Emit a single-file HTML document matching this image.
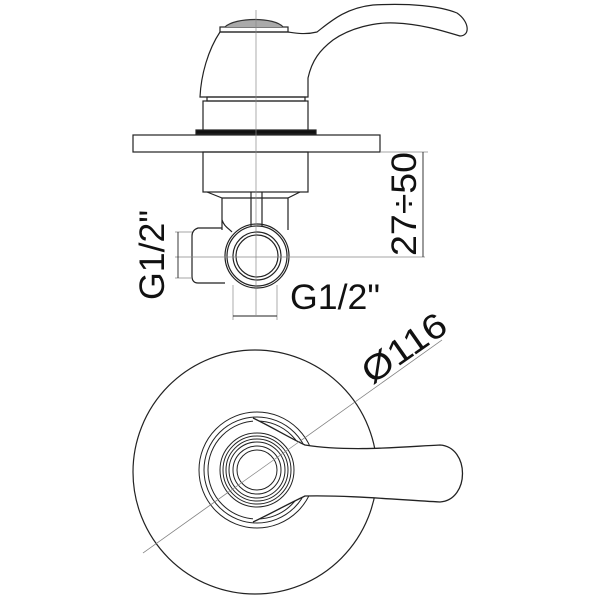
<!DOCTYPE html>
<html><head><meta charset="utf-8"><style>html,body{margin:0;background:#fff}svg{display:block}</style></head>
<body>
<svg width="600" height="600" viewBox="0 0 600 600" xmlns="http://www.w3.org/2000/svg" fill="none" stroke="#222" stroke-width="1.2">
<!-- top view: handle -->
<path d="M220 32 C208 50 201 75 200 97 L308 97 L308 78 C312 60 320 50 333 40 C350 28 375 22 395 23 C420 24 440 30 460 36 C470 36 470 22 457 13 C440 6 410 3 373 5 C345 8 330 22 317 32 C305 35 295 33 288 32 Z"/>
<rect x="220" y="27" width="68" height="5"/>
<path d="M225 27 C235 17 275 17 283 27" fill="#aaa" stroke="#333"/>
<rect x="207" y="97" width="98" height="4"/>
<rect x="203" y="101" width="105" height="30"/>
<rect x="196" y="130" width="120" height="4" fill="#111"/>
<rect x="133" y="135" width="247" height="17"/>
<rect x="203" y="152" width="105" height="40"/>
<path d="M207 192 L222 198 L222 230 M300 192 L288 198 L288 230"/>
<path d="M222 198 L288 198"/>
<path d="M251 192 L251 226 M262 192 L262 226"/>
<path d="M222 220 C224 226 228 228 232 232"/>
<path d="M222 228 L198 228 Q192 230 192 236 L192 276 Q192 283 198 283 L225 283"/>
<circle cx="257" cy="256" r="32"/>
<circle cx="257" cy="256" r="30"/>
<circle cx="257" cy="256" r="24"/>
<circle cx="257" cy="256" r="21"/>
<!-- center lines -->
<g stroke="#888" stroke-width="0.7">
<line x1="256" y1="10" x2="256" y2="315"/>
<line x1="175" y1="257" x2="425" y2="257"/>
<line x1="380" y1="152" x2="428" y2="152"/>
<line x1="233" y1="285" x2="233" y2="320"/>
<line x1="277" y1="285" x2="277" y2="320"/>
<line x1="175" y1="232" x2="192" y2="232"/>
<line x1="175" y1="278" x2="192" y2="278"/>
<line x1="143" y1="553" x2="442" y2="340"/>
</g>
<g stroke="#222" stroke-width="0.9">
<line x1="423" y1="152" x2="423" y2="257"/>
<line x1="178" y1="232" x2="178" y2="278"/>
<line x1="233" y1="316" x2="277" y2="316"/>
</g>
<g font-family="Liberation Sans, sans-serif" font-size="35" fill="#111" stroke="none">
<text transform="translate(416 256) rotate(-90)" textLength="104" lengthAdjust="spacingAndGlyphs">27÷50</text>
<text transform="translate(164 300) rotate(-90)" textLength="90" lengthAdjust="spacingAndGlyphs">G1/2"</text>
<text x="290" y="309" textLength="90" lengthAdjust="spacingAndGlyphs">G1/2"</text>
<text transform="translate(372 385) rotate(-35)" textLength="95" lengthAdjust="spacingAndGlyphs">Ø116</text>
</g>
<!-- bottom view -->
<circle cx="255" cy="472" r="122"/>
<g stroke-width="1">
<circle cx="257" cy="470" r="58"/>
<circle cx="257" cy="470" r="53"/>
<circle cx="257" cy="470" r="49"/>
</g>
<path d="M253 418 C270 426 290 438 305 445 C350 452 400 447 440 445 C470 447 470 500 440 502 C400 500 350 495 305 496 C290 503 270 514 253 522" fill="#fff" stroke-width="1.3"/>
<g stroke-width="1" fill="#fff">
<circle cx="257" cy="470" r="37"/>
</g>
<g stroke-width="1">
<circle cx="257" cy="470" r="34"/>
<circle cx="257" cy="470" r="31"/>
<circle cx="257" cy="470" r="28"/>
<circle cx="257" cy="470" r="24"/>
<circle cx="257" cy="470" r="20"/>
</g>
<line x1="143" y1="553" x2="442" y2="340" stroke="#888" stroke-width="0.7"/>
</svg>
</body></html>
